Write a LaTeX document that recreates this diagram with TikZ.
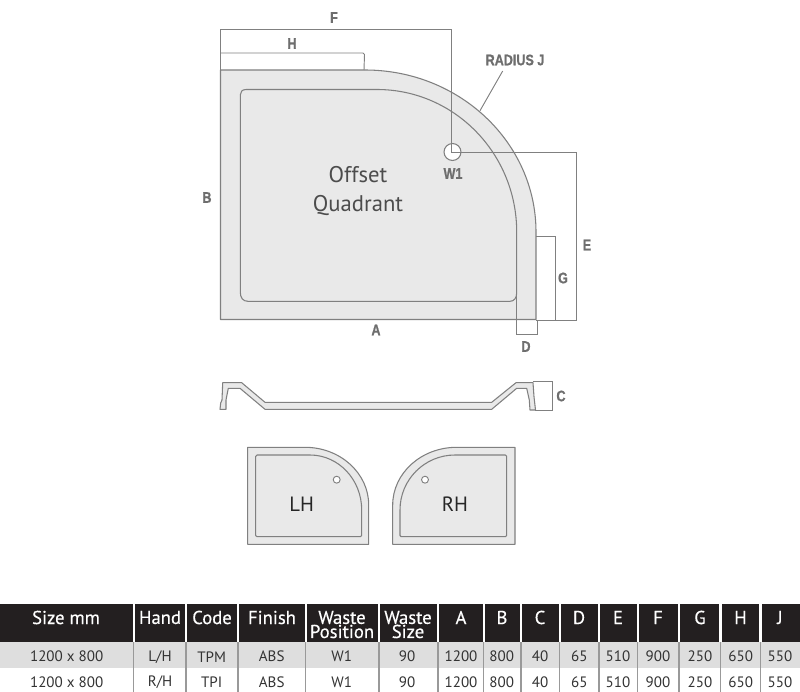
\documentclass[tikz,border=0pt]{standalone}
\usepackage{fontspec}
\setmainfont{PT Sans}
\newfontfamily\dimfont[FakeStretch=0.82,FakeBold=0.8]{Liberation Sans Bold}
\newfontfamily\headfont[FakeBold=0.4]{PT Sans}
\definecolor{trayfill}{HTML}{E9E9E9}
\definecolor{trayline}{HTML}{808080}
\definecolor{dimtext}{HTML}{6E6E6E}
\definecolor{rowgrey}{HTML}{DEDEDE}
\definecolor{headblack}{HTML}{231F20}
\definecolor{rowtext}{HTML}{333333}
\definecolor{sepgrey}{HTML}{999999}
\tikzset{
  trayedge/.style={draw=trayline,line width=0.8pt,line join=round},
  tray/.style={trayedge,fill=trayfill},
  dimline/.style={draw=trayline,line width=0.7pt},
  dimlabel/.style={font=\dimfont\fontsize{11.5}{12}\selectfont,text=dimtext,inner sep=0pt},
  bigname/.style={font=\fontsize{17}{18}\selectfont,text=black!70,inner sep=0pt},
  handname/.style={font=\fontsize{15.5}{18}\selectfont,text=black!85,inner sep=0pt},
  headtext/.style={font=\headfont\fontsize{14}{10.6}\selectfont,text=white,align=center,inner sep=0pt},
  celltext/.style={font=\fontsize{11.3}{13}\selectfont,text=rowtext,inner sep=0pt},
}
\begin{document}
\begin{tikzpicture}[x=0.75pt,y=-0.75pt]
\useasboundingbox (0,0) rectangle (800,692);
% main tray
\path[tray] (220.5,70) -- (365,70) arc[start angle=-90,end angle=0,x radius=171,y radius=162]
  -- (536,319.5) -- (220.5,319.5) -- cycle;
\path[trayedge] (246,89.5) -- (377,89.5) arc[start angle=-90,end angle=0,x radius=139.7,y radius=142.5]
  -- (516.7,293) .. controls (516.7,298) and (514,301.3) .. (510,301.3)
  -- (248,301.3) .. controls (243,301.3) and (240.3,298) .. (240.3,292)
  -- (240.3,95) .. controls (240.3,92) and (242,89.5) .. (246,89.5) -- cycle;
% dimension lines
\path[dimline] (220.5,70) -- (220.5,29.5) -- (451.5,29.5) -- (451.5,152);
\path[dimline] (220.5,53) -- (363,53) -- (364.5,54.5) -- (364,70);
\node[circle,draw=trayline,line width=0.8pt,fill=white,minimum size=12.7pt,inner sep=0pt] (waste) at (452.5,152) {};
\path[dimline] (451.5,140) -- (451.5,152) -- (576.5,152) -- (576.5,320.5) -- (536,320.5);
\path[dimline] (536,236.5) -- (555.5,236.5) -- (555.5,320.5);
\path[dimline] (516.7,293) -- (516.7,334) -- (537,334) -- (537,319.5);
\coordinate (radiusA) at (502.7,71);
\coordinate (radiusB) at (480,110.7);
\draw[dimline] (radiusA) -- (radiusB);
% labels
\node[dimlabel] (lF) at (334,17.5) {F};
\node[dimlabel] (lH) at (292,43.5) {H};
\node[dimlabel] (lJ) at (515,60) {RADIUS J};
\node[dimlabel] (lW) at (453,173.5) {W1};
\node[dimlabel] (lB) at (207,197.5) {B};
\node[dimlabel] (lA) at (376,330) {A};
\node[dimlabel] (lD) at (526,346.5) {D};
\node[dimlabel] (lE) at (587,245) {E};
\node[dimlabel] (lG) at (563,278) {G};
\node[dimlabel] (lC) at (561,396) {C};
\node[bigname] (offset) at (358,175) {Offset};
\node[bigname] (quadrant) at (358,205.5) {Quadrant};
% cross-section
\path[tray] (222.7,382.7) -- (241.7,382.7) -- (265,402.3) -- (491.7,402.3) -- (516,382.7) -- (533,382.7)
  -- (534,396.7) -- (535.5,410) -- (530,410) -- (529.3,400) -- (526.7,388.3) -- (516.7,388.3)
  -- (491.7,409.3) -- (265,409.3) -- (240,388.3) -- (228.3,388.3) -- (226,400) -- (226,409.3)
  -- (220,409.3) -- (220.7,403) -- (222,400) -- cycle;
\path[dimline] (533.3,381.7) -- (552.3,381.7) -- (552.3,410.7) -- (535.3,410.7);
% left hand
\path[tray] (247.7,447.3) -- (305,447.3) arc[start angle=-90,end angle=0,x radius=63.7,y radius=57.7]
  -- (368.7,544.3) -- (247.7,544.3) -- cycle;
\path[trayedge] (257,455) -- (310,455) arc[start angle=-90,end angle=0,x radius=51.7,y radius=55]
  -- (361.7,535.5) -- (360.5,536.7) -- (257,536.7) -- (255.7,535.5) -- (255.7,456.3) -- cycle;
\node[circle,draw=trayline,line width=0.7pt,fill=white,minimum size=5.2pt,inner sep=0pt] (wasteL) at (336.7,479.7) {};
\node[handname] (lh) at (301.7,504) {LH};
% right hand
\path[tray] (515,447.3) -- (456.7,447.3) arc[start angle=-90,end angle=-180,x radius=64,y radius=57.7]
  -- (392.7,544.3) -- (515,544.3) -- cycle;
\path[trayedge] (505.4,455) -- (455,455) arc[start angle=-90,end angle=-180,x radius=55,y radius=55]
  -- (400,535.5) -- (401.2,536.7) -- (505.4,536.7) -- (506.7,535.5) -- (506.7,456.3) -- cycle;
\node[circle,draw=trayline,line width=0.7pt,fill=white,minimum size=5.2pt,inner sep=0pt] (wasteR) at (425,479.7) {};
\node[handname] (rh) at (455,504) {RH};
% table
\fill[rowgrey] (0,642.3) rectangle (800,667.7);
\foreach \l/\r/\c/\t [count=\i] in {
  0/132.7/66/{Size mm},135/185/160/Hand,187/237.3/212/Code,239/305/272/Finish,
  306.7/378/342/{Waste\\Position},380/436.7/408/{Waste\\Size},439.3/482.7/461/A,484.7/520/502/B,
  522/558.7/540/C,560.7/598/579/D,600/636.7/618/E,639/678/658/F,680.3/719.3/700/G,
  721.7/759.3/740.5/H,761.7/800/780/J}{
  \fill[headblack] (\l,604.3) rectangle (\r,641.7);
  \node[headtext] (head\i) at (\c,{\i==5||\i==6 ? 624.5 : 617.5}) {\t};
}
\foreach \x in {133.8,186,238,305.8,379,438,483.7,521,559.7,599,637.8,679,720.5,760.5}{
  \draw[sepgrey,line width=0.9pt] (\x,642) -- (\x,692);
}
\foreach \c/\a/\b [count=\i] in {
  66.7/{1200 x 800}/{1200 x 800},160/L\slash H/R\slash H,211.7/TPM/TPI,271.7/ABS/ABS,341.7/W1/W1,407/90/90,
  461/1200/1200,501.7/800/800,540/40/40,579.3/65/65,618/510/510,658/900/900,700/250/250,740.7/650/650,780/550/550}{
  \node[celltext] (rowa\i) at (\c,656.7) {\a};
  \node[celltext] (rowb\i) at (\c,682.3) {\b};
}
\end{tikzpicture}
\end{document}
